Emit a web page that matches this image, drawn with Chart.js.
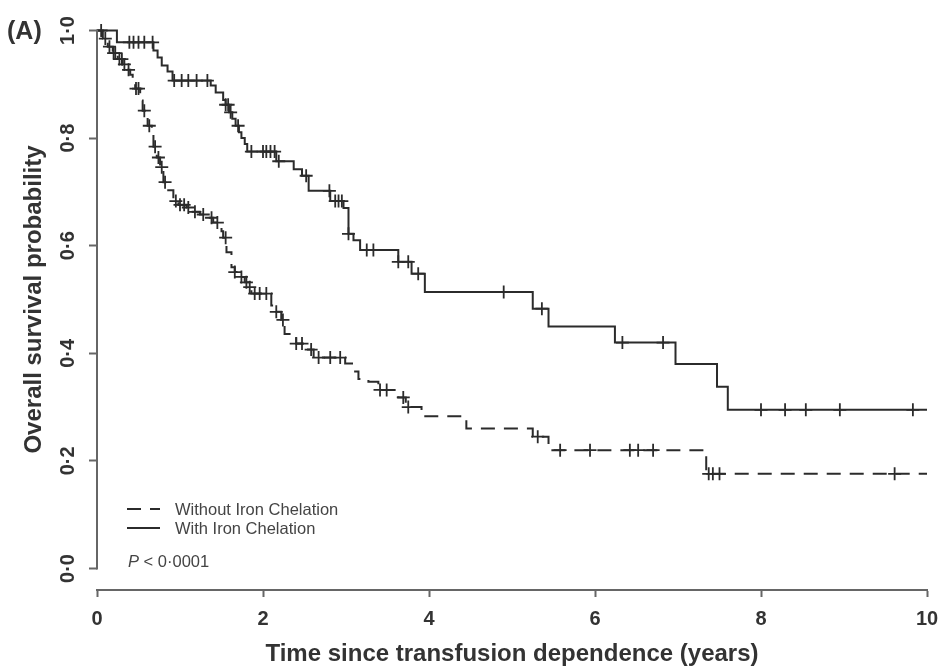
<!DOCTYPE html>
<html>
<head>
<meta charset="utf-8">
<title>Overall survival by iron chelation</title>
<script src="https://cdn.jsdelivr.net/npm/chart.js@4.4.1/dist/chart.umd.min.js"></script>
<style>
  html, body { margin: 0; padding: 0; background: #fff; }
  canvas { display: block; }
</style>
</head>
<body>
<canvas id="kmChart" width="939" height="666"></canvas>
<script>
const FONT = "'Liberation Sans', Arial, Helvetica, sans-serif";
const INK = "#333";
const AXIS = "#666";

/* ===============================
   DATA (years, survival probability)
================================ */
// With iron chelation: time of each drop and the level after it
const withTimes = [0, 0.24, 0.68, 0.73, 0.78, 0.85, 0.91, 1.37, 1.43, 1.52, 1.55, 1.59, 1.63, 1.67,
  1.71, 1.74, 1.78, 1.81, 2.16, 2.37, 2.47, 2.55, 2.81, 2.97, 3.03, 3.09, 3.17, 3.63, 3.79, 3.95,
  5.25, 5.44, 6.24, 6.97, 7.47, 7.60];
const withSurv = [1.0, 0.978, 0.963, 0.950, 0.935, 0.924, 0.907, 0.898, 0.885, 0.871, 0.862, 0.848, 0.836, 0.823,
  0.811, 0.800, 0.789, 0.775, 0.757, 0.742, 0.730, 0.702, 0.683, 0.670, 0.622, 0.610, 0.592, 0.570, 0.548, 0.514,
  0.483, 0.450, 0.420, 0.380, 0.338, 0.295];
const withCensored = [0.39, 0.44, 0.50, 0.57, 0.67, 0.93, 1.02, 1.10, 1.20, 1.33, 1.55, 1.58, 1.61, 1.70,
  1.86, 2.00, 2.04, 2.09, 2.14, 2.19, 2.52, 2.80, 2.87, 2.91, 2.95, 3.03, 3.25, 3.33, 3.63, 3.75, 3.87,
  4.90, 5.36, 6.33, 6.82, 8.00, 8.29, 8.54, 8.95, 9.83];

// Without iron chelation
const withoutTimes = [0, 0.07, 0.13, 0.19, 0.25, 0.31, 0.36, 0.40, 0.43, 0.46, 0.52, 0.55, 0.61, 0.66,
  0.68, 0.72, 0.76, 0.80, 0.84, 0.92, 0.98, 1.08, 1.14, 1.24, 1.34, 1.40, 1.46, 1.50, 1.52, 1.56,
  1.62, 1.66, 1.72, 1.78, 1.84, 1.86, 2.10, 2.16, 2.22, 2.26, 2.34, 2.40, 2.48, 2.61, 2.99, 3.11,
  3.15, 3.27, 3.39, 3.63, 3.72, 3.91, 4.45, 5.25, 5.44, 7.34];
const withoutSurv = [1.0, 0.985, 0.970, 0.958, 0.947, 0.937, 0.927, 0.918, 0.906, 0.892, 0.870, 0.851, 0.823, 0.806,
  0.784, 0.764, 0.746, 0.718, 0.703, 0.683, 0.676, 0.671, 0.663, 0.658, 0.652, 0.643, 0.637, 0.627, 0.615, 0.588,
  0.560, 0.551, 0.542, 0.532, 0.523, 0.511, 0.489, 0.477, 0.462, 0.436, 0.430, 0.418, 0.407, 0.392, 0.381, 0.366,
  0.352, 0.347, 0.332, 0.318, 0.300, 0.283, 0.260, 0.245, 0.220, 0.176];
const withoutCensored = [0.05, 0.10, 0.15, 0.20, 0.22, 0.27, 0.30, 0.33, 0.38, 0.47, 0.50, 0.57, 0.63, 0.70,
  0.74, 0.78, 0.82, 0.95, 1.00, 1.05, 1.10, 1.18, 1.28, 1.38, 1.45, 1.55, 1.66, 1.74, 1.80, 1.84, 1.90,
  1.96, 2.04, 2.16, 2.24, 2.40, 2.47, 2.58, 2.67, 2.81, 2.93, 3.41, 3.49, 3.69, 3.75, 5.31, 5.58, 5.94,
  6.42, 6.52, 6.70, 7.37, 7.42, 7.50, 9.61];

const followUpEnd = 10;
const xTicks = [0, 2, 4, 6, 8, 10];
const yTicks = [0, 0.2, 0.4, 0.6, 0.8, 1.0];
const seriesLabels = ["Without Iron Chelation", "With Iron Chelation"];

/* ===============================
   HELPERS
================================ */
function stepPoints(times, surv) {
  const pts = times.map((t, i) => ({ x: t, y: surv[i] }));
  pts.push({ x: followUpEnd, y: surv[surv.length - 1] });
  return pts;
}

function levelAt(times, surv, t) {
  let s = surv[0];
  for (let i = 0; i < times.length; i++) {
    if (times[i] <= t) s = surv[i];
  }
  return s;
}

function censorPoints(cens, times, surv) {
  return cens.map(t => ({ x: t, y: levelAt(times, surv, t) }));
}

const fmtY = v => v.toFixed(1).replace(".", "\u00b7");

/* ===============================
   AXES, LEGEND, LABELS
================================ */
const decorations = {
  id: "decorations",
  afterDraw(chart) {
    const { ctx, chartArea, scales: { x, y } } = chart;
    ctx.save();

    // y axis line runs only between the outer ticks
    const yTop = y.getPixelForValue(y.ticks[y.ticks.length - 1].value);
    const yBot = y.getPixelForValue(y.ticks[0].value);
    ctx.strokeStyle = AXIS;
    ctx.lineWidth = 2;
    ctx.beginPath();
    ctx.moveTo(chartArea.left, yTop - 1);
    ctx.lineTo(chartArea.left, yBot + 1);
    ctx.stroke();

    // rotated y tick labels
    ctx.fillStyle = INK;
    ctx.font = "bold 20px " + FONT;
    ctx.textAlign = "center";
    ctx.textBaseline = "middle";
    y.ticks.forEach(t => {
      ctx.save();
      ctx.translate(chartArea.left - 29, y.getPixelForValue(t.value));
      ctx.rotate(-Math.PI / 2);
      ctx.fillText(fmtY(t.value), 0, 0);
      ctx.restore();
    });

    // panel letter
    ctx.textAlign = "left";
    ctx.font = "bold 25px " + FONT;
    ctx.fillText("(A)", 7, yTop + 2);

    // legend
    const lx = chartArea.left + 30;
    const rows = [chart.data.datasets[0], chart.data.datasets[1]];
    ctx.font = "16.5px " + FONT;
    ctx.fillStyle = "#444";
    rows.forEach((ds, i) => {
      const ly = 509 + i * 19;
      ctx.strokeStyle = ds.borderColor;
      ctx.lineWidth = ds.borderWidth;
      ctx.setLineDash(ds.borderDash || []);
      ctx.beginPath();
      ctx.moveTo(lx, ly);
      ctx.lineTo(lx + 33, ly);
      ctx.stroke();
      ctx.setLineDash([]);
      ctx.fillText(ds.label, lx + 48, ly + 1);
    });

    // log-rank p value
    const py = 562;
    ctx.font = "italic 16.5px " + FONT;
    ctx.fillText("P", lx + 1, py);
    const pw = ctx.measureText("P").width;
    ctx.font = "16.5px " + FONT;
    ctx.fillText(" < 0\u00b70001", lx + 1 + pw, py);

    ctx.restore();
  }
};

/* ===============================
   CHART
================================ */
const lineColor = "#2b2b2b";

new Chart(document.getElementById("kmChart"), {
  type: "line",
  data: {
    datasets: [
      {
        label: seriesLabels[0],
        data: stepPoints(withoutTimes, withoutSurv),
        stepped: "before",
        borderColor: lineColor,
        borderWidth: 2,
        borderDash: [14, 9],
        pointRadius: 0,
        fill: false
      },
      {
        label: seriesLabels[1],
        data: stepPoints(withTimes, withSurv),
        stepped: "before",
        borderColor: lineColor,
        borderWidth: 2,
        pointRadius: 0,
        fill: false
      },
      {
        label: "censored-without",
        data: censorPoints(withoutCensored, withoutTimes, withoutSurv),
        showLine: false,
        pointStyle: "cross",
        pointRadius: 6.5,
        pointBorderWidth: 1.8,
        pointBorderColor: lineColor
      },
      {
        label: "censored-with",
        data: censorPoints(withCensored, withTimes, withSurv),
        showLine: false,
        pointStyle: "cross",
        pointRadius: 6.5,
        pointBorderWidth: 1.8,
        pointBorderColor: lineColor
      }
    ]
  },
  options: {
    responsive: false,
    animation: false,
    layout: { padding: { left: 0, right: 0, top: 9, bottom: 0 } },
    plugins: {
      legend: { display: false },
      tooltip: { enabled: false }
    },
    scales: {
      x: {
        type: "linear",
        min: 0,
        max: followUpEnd,
        afterBuildTicks: s => { s.ticks = xTicks.map(v => ({ value: v })); },
        afterFit: s => { s.height = 76; s.paddingRight = 12; },
        border: { display: true, color: AXIS, width: 2 },
        grid: { drawOnChartArea: false, drawTicks: true, tickLength: 7, tickColor: AXIS, tickWidth: 2 },
        ticks: {
          color: INK,
          padding: 10,
          maxRotation: 0,
          font: { family: FONT, size: 20, weight: "bold" },
          callback: v => String(v)
        },
        title: {
          display: true,
          text: "Time since transfusion dependence (years)",
          color: INK,
          padding: { top: 0, bottom: 0 },
          font: { family: FONT, size: 24, weight: "bold", lineHeight: 1 }
        }
      },
      y: {
        type: "linear",
        min: -0.04,
        max: 1.04,
        afterBuildTicks: s => { s.ticks = yTicks.map(v => ({ value: v })); },
        afterFit: s => { s.width = 97; },
        border: { display: false },
        grid: { drawOnChartArea: false, drawTicks: true, tickLength: 8, tickColor: AXIS, tickWidth: 2 },
        ticks: { display: false },
        title: {
          display: true,
          text: "Overall survival probability",
          color: INK,
          padding: { top: 22, bottom: 0 },
          font: { family: FONT, size: 24, weight: "bold", lineHeight: 1 }
        }
      }
    }
  },
  plugins: [decorations]
});
</script>
</body>
</html>
